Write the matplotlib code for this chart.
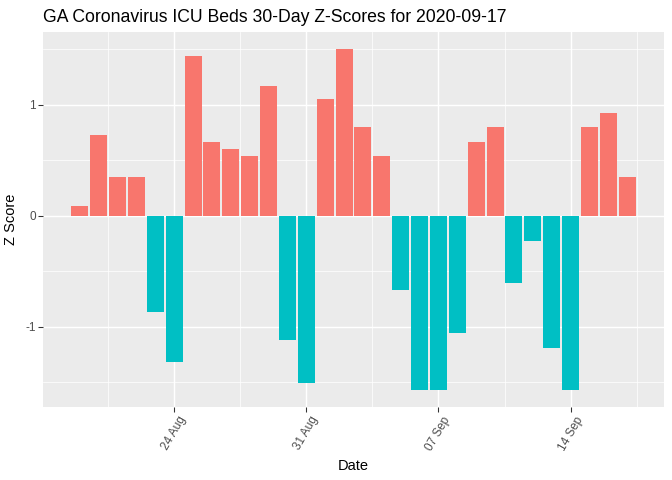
import numpy as np
import pandas as pd
import matplotlib
matplotlib.use("Agg")
import matplotlib.pyplot as plt
import matplotlib.dates as mdates

plt.rcParams['font.family'] = ['Liberation Sans', 'DejaVu Sans']

# daily z-scores, 2020-08-19 .. 2020-09-17
start_date = "2020-08-19"
z_scores = [0.09, 0.73, 0.35, 0.35, -0.87, -1.32, 1.44, 0.66, 0.60, 0.54,
            1.17, -1.12, -1.51, 1.05, 1.50, 0.80, 0.54, -0.67, -1.57, -1.57,
            -1.06, 0.66, 0.80, -0.61, -0.23, -1.19, -1.57, 0.80, 0.92, 0.35]
tick_dates = ["2020-08-24", "2020-08-31", "2020-09-07", "2020-09-14"]
tick_labels = ["24 Aug", "31 Aug", "07 Sep", "14 Sep"]
y_ticks = [-1, 0, 1]

pos_col = "#F8766D"
neg_col = "#00BFC4"

dates = pd.date_range(start_date, periods=len(z_scores))
x = mdates.date2num(dates)
z = np.array(z_scores)

fig = plt.figure(figsize=(7, 5), dpi=96)
ax = fig.add_axes([43/672, 1 - 407/480, (664 - 43)/672, (407 - 32)/480])
ax.set_facecolor("#EBEBEB")

cols = [pos_col if v >= 0 else neg_col for v in z]
ax.bar(x, z, width=0.9, color=cols, zorder=3)

# ggplot style 5% expansion
lo, hi = x[0] - 0.45, x[-1] + 0.45
pad = (hi - lo) * 0.05
ax.set_xlim(lo - pad, hi + pad)
ymin, ymax = min(z.min(), 0), max(z.max(), 0)
ypad = (ymax - ymin) * 0.05
ax.set_ylim(ymin - ypad, ymax + ypad)

xt = mdates.date2num(pd.to_datetime(tick_dates))
ax.set_xticks(xt)
ax.set_xticklabels(tick_labels, rotation=60, ha="center", va="top")
step = xt[1] - xt[0]
ax.set_xticks(np.concatenate([[xt[0] - step/2], xt + step/2]), minor=True)
ax.set_yticks(y_ticks)
ax.set_yticklabels([str(t) for t in y_ticks])
ax.set_yticks([-1.5, -0.5, 0.5, 1.5], minor=True)

ax.grid(which="major", color="white", linewidth=1.1, zorder=0)
ax.grid(which="minor", color="white", linewidth=0.55, zorder=0)
ax.set_axisbelow(True)
for s in ax.spines.values():
    s.set_visible(False)
ax.tick_params(which="major", length=3.5, width=0.8, color="#333333",
               labelcolor="#4D4D4D", labelsize=8.8, pad=2)
ax.tick_params(which="minor", length=0)

ax.set_xlabel("Date", fontsize=11, color="black", labelpad=5)
ax.set_ylabel("Z Score", fontsize=11, color="black", labelpad=5)
fig.text(43/672, 1 - 22/480, "GA Coronavirus ICU Beds 30-Day Z-Scores for 2020-09-17",
         fontsize=13.2, color="black", ha="left", va="baseline")

fig.savefig("out.png", dpi=96)
